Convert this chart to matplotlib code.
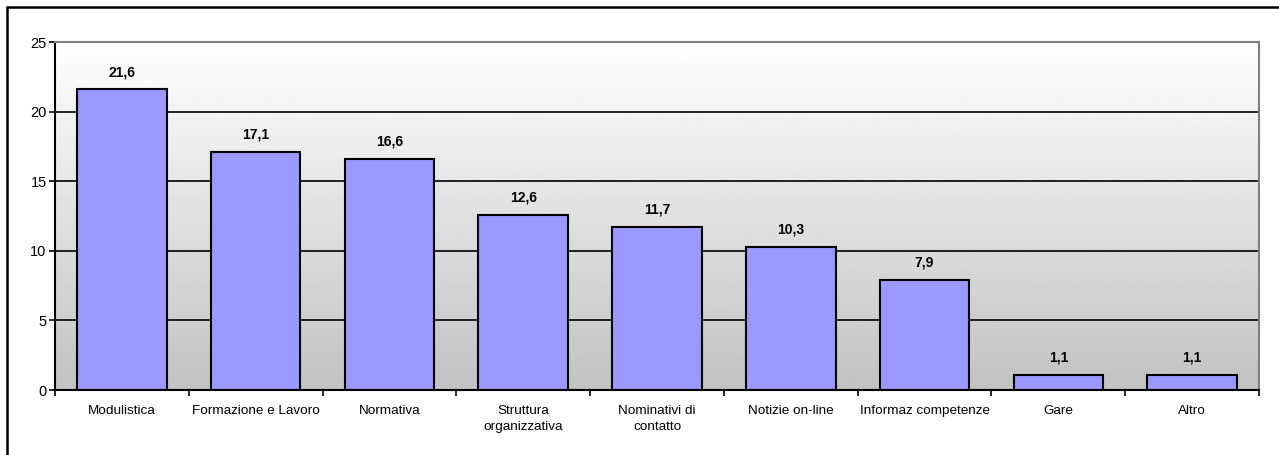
import numpy as np
import matplotlib.pyplot as plt
from matplotlib.patches import Rectangle

categories = ['Modulistica', 'Formazione e Lavoro', 'Normativa', 'Struttura\norganizzativa',
              'Nominativi di\ncontatto', 'Notizie on-line', 'Informaz competenze', 'Gare', 'Altro']
values = [21.6, 17.1, 16.6, 12.6, 11.7, 10.3, 7.9, 1.1, 1.1]
value_labels = ['21,6', '17,1', '16,6', '12,6', '11,7', '10,3', '7,9', '1,1', '1,1']
yticks = [0, 5, 10, 15, 20, 25]

plt.rcParams['font.family'] = ['Liberation Sans', 'DejaVu Sans']

fig = plt.figure(figsize=(12.79, 4.55), dpi=100)
ax = fig.add_axes([55/1279, 1 - 390/455, (1259 - 55)/1279, (390 - 42)/455])

# outer chart frame (only left and top edges fall inside the image)
fig.patches.append(Rectangle((7/1279, -0.2), 1.5, 0.2 + 448/455, transform=fig.transFigure,
                             fill=False, edgecolor='black', lw=1.8))

n = len(categories)
x = np.arange(n)

# gradient background, white at top to grey at bottom
grad = np.linspace(0.76, 1.0, 256).reshape(-1, 1)
ax.imshow(grad, extent=(-0.5, n - 0.5, 0, 25), origin='lower', cmap='gray',
          vmin=0, vmax=1, aspect='auto', zorder=0)

for yv in yticks[1:-1]:
    ax.axhline(yv, color='black', lw=1.2, zorder=1)

ax.bar(x, values, width=0.67, color='#9999FF', edgecolor='black', linewidth=1.5, zorder=2)

for xi, v, lab in zip(x, values, value_labels):
    ax.annotate(lab, (xi, v), xytext=(0, 9.5), textcoords='offset points',
                ha='center', va='baseline', fontsize=10, fontweight='bold')

ax.set_xlim(-0.5, n - 0.5)
ax.set_ylim(0, 25)
ax.set_yticks(yticks)
ax.set_yticklabels([str(t) for t in yticks], fontsize=10.5)
ax.set_xticks(x)
ax.set_xticklabels(categories, fontsize=9.7, linespacing=1.45)
ax.tick_params(axis='x', length=0, pad=11)
ax.set_xticks(np.arange(n + 1) - 0.5, minor=True)
ax.tick_params(axis='x', which='minor', length=4, width=1.2, direction='out')
ax.tick_params(axis='y', length=4, width=1.2, direction='out', pad=2)

for s in ['left', 'bottom']:
    ax.spines[s].set_color('black')
    ax.spines[s].set_linewidth(1.5)
for s in ['top', 'right']:
    ax.spines[s].set_color('#808080')
    ax.spines[s].set_linewidth(1.5)

fig.savefig('out.png', dpi=100)
